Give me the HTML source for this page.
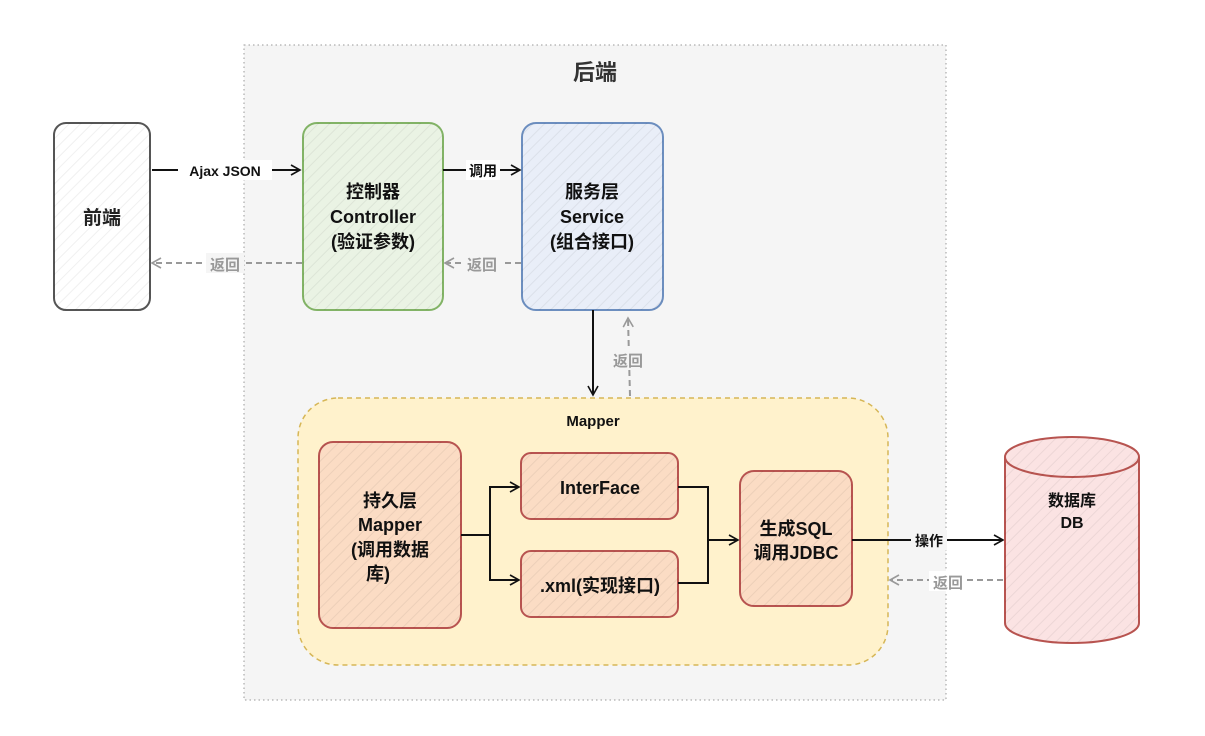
<!DOCTYPE html>
<html><head><meta charset="utf-8"><style>
html,body{margin:0;padding:0;background:#fff}
svg{display:block}
text{font-family:"Liberation Sans","Noto Sans CJK SC",sans-serif;font-weight:bold}
</style></head><body>
<svg width="1205" height="736" viewBox="0 0 1205 736" xmlns="http://www.w3.org/2000/svg">
<defs>
<pattern id="h" width="8" height="8" patternUnits="userSpaceOnUse" patternTransform="rotate(45)">
<line x1="0" y1="0" x2="0" y2="8" stroke="#000" stroke-opacity="0.06" stroke-width="2"/></pattern>
<marker id="a" markerWidth="12" markerHeight="12" refX="10" refY="6" orient="auto" markerUnits="userSpaceOnUse">
<path d="M1,1 L10,6 L1,11" fill="none" stroke="#111" stroke-width="1.6"/></marker>
<marker id="g" markerWidth="12" markerHeight="12" refX="10" refY="6" orient="auto" markerUnits="userSpaceOnUse">
<path d="M1,1 L10,6 L1,11" fill="none" stroke="#999" stroke-width="1.6"/></marker>
</defs>
<rect x="244" y="45" width="702" height="655" fill="#f5f5f5" stroke="#999" stroke-dasharray="1.5 3"/>
<text x="595" y="80" font-size="22" text-anchor="middle" fill="#333">后端</text>

<rect x="54" y="123" width="96" height="187" rx="12" fill="#fff" stroke="#555" stroke-width="2"/>
<rect x="54" y="123" width="96" height="187" rx="12" fill="url(#h)"/>
<text x="102" y="224" font-size="19" text-anchor="middle" fill="#222">前端</text>

<rect x="303" y="123" width="140" height="187" rx="14" fill="#eaf3e4" stroke="#82b366" stroke-width="2"/>
<rect x="303" y="123" width="140" height="187" rx="14" fill="url(#h)"/>
<text x="373" y="198" font-size="18" text-anchor="middle" fill="#111">控制器</text>
<text x="373" y="223" font-size="18" text-anchor="middle" fill="#111">Controller</text>
<text x="373" y="248" font-size="18" text-anchor="middle" fill="#111">(验证参数)</text>

<rect x="522" y="123" width="141" height="187" rx="14" fill="#e9eef8" stroke="#6c8ebf" stroke-width="2"/>
<rect x="522" y="123" width="141" height="187" rx="14" fill="url(#h)"/>
<text x="592" y="198" font-size="18" text-anchor="middle" fill="#111">服务层</text>
<text x="592" y="223" font-size="18" text-anchor="middle" fill="#111">Service</text>
<text x="592" y="248" font-size="18" text-anchor="middle" fill="#111">(组合接口)</text>

<line x1="152" y1="170" x2="300" y2="170" stroke="#111" stroke-width="2" marker-end="url(#a)"/>
<rect x="178" y="160" width="94" height="20" fill="#fff"/>
<text x="225" y="176" font-size="14" text-anchor="middle" fill="#111">Ajax JSON</text>
<line x1="443" y1="170" x2="520" y2="170" stroke="#111" stroke-width="2" marker-end="url(#a)"/>
<rect x="466" y="160" width="34" height="20" fill="#fff"/>
<text x="483" y="176" font-size="14" text-anchor="middle" fill="#111" font-weight="normal">调用</text>

<line x1="302" y1="263" x2="152" y2="263" stroke="#999" stroke-width="2" stroke-dasharray="6 4" marker-end="url(#g)"/>
<rect x="206" y="253" width="38" height="20" fill="#f5f5f5"/>
<text x="225" y="270" font-size="15" text-anchor="middle" fill="#999">返回</text>
<line x1="521" y1="263" x2="445" y2="263" stroke="#999" stroke-width="2" stroke-dasharray="6 4" marker-end="url(#g)"/>
<rect x="463" y="253" width="38" height="20" fill="#f5f5f5"/>
<text x="482" y="270" font-size="15" text-anchor="middle" fill="#999">返回</text>

<line x1="593" y1="310" x2="593" y2="395" stroke="#111" stroke-width="2" marker-end="url(#a)"/>
<line x1="630" y1="396" x2="628" y2="318" stroke="#999" stroke-width="2" stroke-dasharray="6 4" marker-end="url(#g)"/>
<rect x="609" y="350" width="38" height="20" fill="#f5f5f5"/>
<text x="628" y="366" font-size="15" text-anchor="middle" fill="#999">返回</text>

<rect x="298" y="398" width="590" height="267" rx="40" fill="#fff2cc" stroke="#d6b656" stroke-width="1.5" stroke-dasharray="5 4"/>
<text x="593" y="426" font-size="15" text-anchor="middle" fill="#111">Mapper</text>

<rect x="319" y="442" width="142" height="186" rx="14" fill="#fbdcc4" stroke="#b85450" stroke-width="2"/>
<rect x="319" y="442" width="142" height="186" rx="14" fill="url(#h)"/>
<text x="390" y="507" font-size="18" text-anchor="middle" fill="#111">持久层</text>
<text x="390" y="531" font-size="18" text-anchor="middle" fill="#111">Mapper</text>
<text x="390" y="556" font-size="18" text-anchor="middle" fill="#111">(调用数据</text>
<text x="378" y="580" font-size="18" text-anchor="middle" fill="#111">库)</text>

<rect x="521" y="453" width="157" height="66" rx="10" fill="#fbdcc4" stroke="#b85450" stroke-width="2"/>
<rect x="521" y="453" width="157" height="66" rx="10" fill="url(#h)"/>
<text x="600" y="494" font-size="18" text-anchor="middle" fill="#111">InterFace</text>
<rect x="521" y="551" width="157" height="66" rx="10" fill="#fbdcc4" stroke="#b85450" stroke-width="2"/>
<rect x="521" y="551" width="157" height="66" rx="10" fill="url(#h)"/>
<text x="600" y="592" font-size="18" text-anchor="middle" fill="#111">.xml(实现接口)</text>
<rect x="740" y="471" width="112" height="135" rx="14" fill="#fbdcc4" stroke="#b85450" stroke-width="2"/>
<rect x="740" y="471" width="112" height="135" rx="14" fill="url(#h)"/>
<text x="796" y="535" font-size="18" text-anchor="middle" fill="#111">生成SQL</text>
<text x="796" y="559" font-size="18" text-anchor="middle" fill="#111">调用JDBC</text>

<path d="M461,535 H490 V487 H519" fill="none" stroke="#111" stroke-width="2" marker-end="url(#a)"/>
<path d="M490,535 V580 H519" fill="none" stroke="#111" stroke-width="2" marker-end="url(#a)"/>
<path d="M678,487 H708 V540 H738" fill="none" stroke="#111" stroke-width="2" marker-end="url(#a)"/>
<path d="M678,583 H708 V540" fill="none" stroke="#111" stroke-width="2"/>

<line x1="852" y1="540" x2="1003" y2="540" stroke="#111" stroke-width="2" marker-end="url(#a)"/>
<rect x="911" y="530" width="36" height="20" fill="#f5f5f5"/>
<text x="929" y="546" font-size="14" text-anchor="middle" fill="#111" font-weight="normal">操作</text>
<line x1="1003" y1="580" x2="890" y2="580" stroke="#999" stroke-width="2" stroke-dasharray="6 4" marker-end="url(#g)"/>
<rect x="929" y="571" width="38" height="20" fill="#fff"/>
<text x="948" y="588" font-size="15" text-anchor="middle" fill="#999">返回</text>

<path d="M1005,457 V623 A67,20 0 0 0 1139,623 V457 A67,20 0 0 0 1005,457 A67,20 0 0 0 1139,457" fill="#fbe3e3" stroke="#b85450" stroke-width="2"/>
<path d="M1005,457 V623 A67,20 0 0 0 1139,623 V457 A67,20 0 0 0 1005,457 Z" fill="url(#h)"/>
<text x="1072" y="506" font-size="16" text-anchor="middle" fill="#111">数据库</text>
<text x="1072" y="528" font-size="16" text-anchor="middle" fill="#111">DB</text>
</svg>
</body></html>
